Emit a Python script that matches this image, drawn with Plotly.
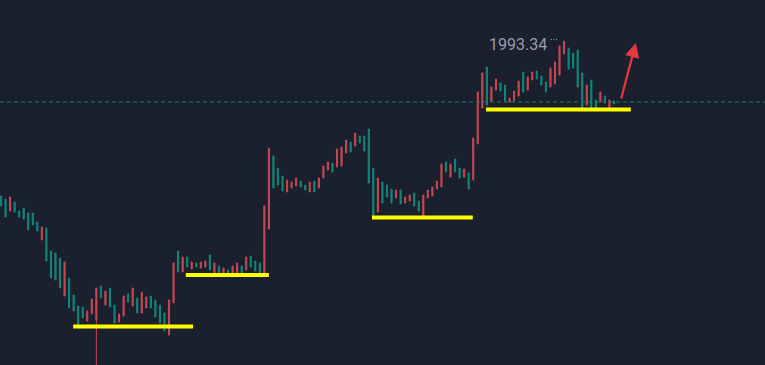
import plotly.graph_objects as go

# candle index (evenly spaced sessions)
opens = [1916, 1914.5, 1908.5, 1913, 1908.5, 1910, 1907.5, 1907.5, 1903, 1894,
         1900, 1888.5, 1887.5, 1885, 1866, 1875, 1866.5, 1861, 1860.5, 1853.5,
         1857, 1854, 1871, 1861.5, 1870, 1861.5, 1853, 1856, 1867, 1861,
         1865, 1857.5, 1860, 1866, 1864, 1861.5, 1857.5, 1846.5, 1862.5, 1888.5,
         1878, 1885.5, 1879.5, 1882.5, 1880, 1880.5, 1886.5, 1877, 1881, 1876.5,
         1879, 1876.5, 1877.5, 1881, 1879, 1886, 1883.5, 1882.5, 1877.5, 1899.5,
         1936, 1930, 1926, 1918, 1920, 1921, 1923.5, 1921.5, 1918, 1923.5,
         1920, 1925, 1929, 1932.5, 1930.5, 1931, 1937.5, 1943, 1941, 1946,
         1946, 1949.5, 1930, 1908, 1923, 1921.5, 1919.5, 1915, 1919, 1912.5,
         1913.5, 1917.5, 1913.5, 1905, 1915, 1916, 1919.5, 1920.5, 1933, 1925.5,
         1934.5, 1930, 1925.5, 1927.5, 1924, 1942, 1960, 1980.5, 1963.5, 1969,
         1972.5, 1971.5, 1963, 1963.5, 1966, 1978, 1969, 1974, 1978.5, 1976,
         1973, 1970.5, 1972, 1976.5, 1987, 1990, 1987.5, 1989, 1977.5, 1961.5,
         1974, 1964, 1963, 1966, 1960, 1963.5]
closes = [1911, 1905.5, 1915.5, 1908, 1905.5, 1904.5, 1899, 1901.5, 1898.5, 1900.5,
          1883.5, 1875, 1874, 1870, 1883, 1860, 1858.5, 1850, 1855, 1858.5,
          1864.5, 1870, 1865, 1868.5, 1860.5, 1852.5, 1857, 1866, 1863, 1870,
          1857.5, 1868, 1865.5, 1860, 1855.5, 1852.5, 1848.5, 1864, 1882.5, 1878,
          1885.5, 1880.5, 1883, 1880.5, 1883, 1883.5, 1879, 1882.5, 1877.5, 1880,
          1876, 1881, 1882.5, 1877.5, 1885.5, 1880.5, 1878.5, 1877.5, 1911, 1940,
          1920, 1921.5, 1918.5, 1924, 1923, 1925, 1920.5, 1919, 1923, 1918,
          1925, 1931, 1933, 1928, 1939.5, 1940.5, 1944, 1938, 1947.5, 1942.5,
          1938.5, 1922.5, 1905.5, 1925, 1912.5, 1915.5, 1912.5, 1919, 1912, 1915.5,
          1916.5, 1911, 1908.5, 1916.5, 1919, 1920.5, 1923.5, 1932, 1928, 1932,
          1928, 1925, 1929.5, 1919.5, 1945, 1968, 1977.5, 1961.5, 1970.5, 1974.5,
          1968.5, 1963.5, 1965, 1968.5, 1973.5, 1968, 1975.5, 1978, 1974.5, 1971.5,
          1968, 1980, 1983, 1991, 1993.34, 1979.5, 1980, 1970.5, 1960, 1971.5,
          1960, 1960, 1968, 1962.5, 1964, 1962]
# one long lower shadow (session 21); other sessions have no visible shadows
long_shadow_index = 21
long_shadow_low = 1826.5

highs = [max(o, c) for o, c in zip(opens, closes)]
lows = [min(o, c) for o, c in zip(opens, closes)]
lows[long_shadow_index] = long_shadow_low
idx = list(range(len(opens)))

last_price = 1963
high_label = "1993.34"
high_value = 1993.34
high_index = 124

# hand-drawn support levels: (start index, end index, price)
support_start = [15.9, 40.7, 81.7, 106.8]
support_end = [42.3, 59.0, 103.9, 138.7]
support_price = [1850.8, 1876.5, 1905.3, 1959.3]

# hand-drawn arrow: from (index, price) to (index, price)
arrow_from = (136.5, 1964)
arrow_to = (139.8, 1992.5)

BG = "#1b202e"
RED = "#c84852"
TEAL = "#12877a"
LABEL = "#979daa"

fig = go.Figure()
fig.add_trace(go.Candlestick(
    x=idx, open=opens, high=highs, low=lows, close=closes,
    increasing=dict(line=dict(color=RED, width=1), fillcolor=RED),
    decreasing=dict(line=dict(color=TEAL, width=1), fillcolor=TEAL),
    whiskerwidth=0, hoverinfo="skip", showlegend=False,
))

# last price dashed line
fig.add_shape(type="line", xref="paper", x0=0, x1=1, yref="y",
              y0=last_price, y1=last_price,
              line=dict(color="#1e7a6c", width=1, dash="4px,3px"))

for xs, xe, p in zip(support_start, support_end, support_price):
    fig.add_shape(type="line", x0=xs, x1=xe, y0=p, y1=p,
                  line=dict(color="#ffff00", width=4))

# high label with dotted leader
fig.add_annotation(x=high_index - 3.3, y=high_value - 1.8, text=high_label,
                   showarrow=False, xanchor="right", yanchor="middle",
                   font=dict(family="Roboto", size=16, color=LABEL))
fig.add_shape(type="line", x0=high_index - 2.9, x1=high_index - 1.3,
              y0=high_value + 0.9, y1=high_value + 0.9,
              line=dict(color=LABEL, width=1, dash="1px,1.5px"))

fig.add_annotation(x=arrow_to[0], y=arrow_to[1], ax=arrow_from[0], ay=arrow_from[1],
                   xref="x", yref="y", axref="x", ayref="y", text="",
                   showarrow=True, arrowhead=2, arrowsize=1.3, arrowwidth=2.2,
                   arrowcolor="#e8383d")

fig.update_layout(
    width=765, height=365, margin=dict(l=0, r=0, t=0, b=0),
    paper_bgcolor=BG, plot_bgcolor=BG,
    boxgap=0.65, boxgroupgap=0.3,
    xaxis=dict(range=[-0.22, 168.25], visible=False, rangeslider=dict(visible=False),
               fixedrange=True),
    yaxis=dict(range=[1831.5, 2014], visible=False, fixedrange=True),
)

fig.write_html(
    "out.html",
    config={"displayModeBar": False},
    post_script="document.body.style.margin='0';document.body.style.background='%s';" % BG,
)
